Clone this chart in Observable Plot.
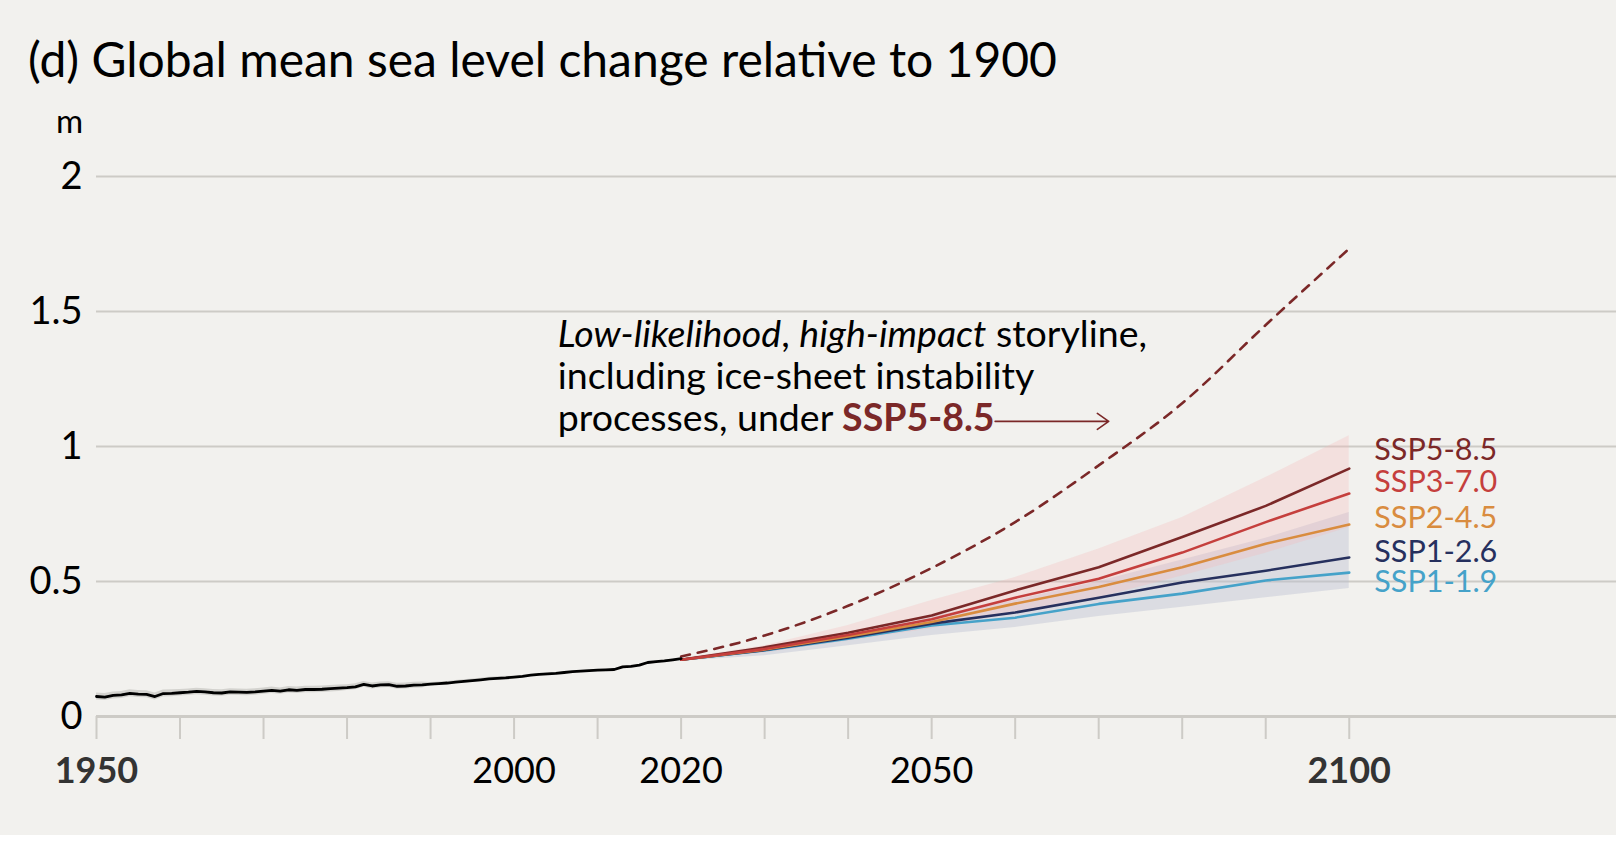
<!DOCTYPE html>
<html>
<head>
<meta charset="utf-8">
<script src="https://cdn.jsdelivr.net/npm/d3@7"></script>
<script src="https://cdn.jsdelivr.net/npm/@observablehq/plot@0.6"></script>
<style>
html, body { margin: 0; padding: 0; background: #ffffff; }
#wrap { width: 1616px; height: 835px; background: #f2f1ee; position: relative; overflow: hidden; font-family: Lato, "Open Sans", sans-serif; }
#title { position: absolute; left: 28px; top: 35px; font-size: 48px; line-height: 48px; color: #000; white-space: nowrap; }
#chart { position: absolute; left: 0; top: 100px; }
</style>
</head>
<body>
<div id="wrap">
  <div id="title">(d) Global mean sea level change relative to 1900</div>
  <div id="chart"></div>
</div>
<script>
// ---------- data ----------
const histStart = 1950;
const histSL = [
  0.074, 0.072, 0.078, 0.080, 0.086, 0.083, 0.082, 0.074, 0.085, 0.086,
  0.088, 0.090, 0.093, 0.091, 0.088, 0.087, 0.091, 0.090, 0.089, 0.091,
  0.094, 0.097, 0.094, 0.099, 0.097, 0.100, 0.100, 0.101, 0.103, 0.105,
  0.107, 0.110, 0.119, 0.113, 0.117, 0.118, 0.112, 0.113, 0.116, 0.117,
  0.120, 0.122, 0.124, 0.127, 0.130, 0.133, 0.136, 0.139, 0.141, 0.143,
  0.146, 0.149, 0.153, 0.156, 0.158, 0.160, 0.163, 0.166, 0.168, 0.170,
  0.172, 0.173, 0.174, 0.184, 0.186, 0.190, 0.200, 0.203, 0.206, 0.210,
  0.214
];
// half-width of the observational uncertainty band, per decade (1950s ... 2020)
const histUncByDecade = [0.013, 0.012, 0.012, 0.011, 0.006, 0.002, 0.002, 0.002];

const projYears = [2020, 2030, 2040, 2050, 2060, 2070, 2080, 2090, 2100];
const scenarios = ["SSP5-8.5", "SSP3-7.0", "SSP2-4.5", "SSP1-2.6", "SSP1-1.9"];
const ssp585 = [0.21, 0.256, 0.310, 0.374, 0.467, 0.553, 0.665, 0.780, 0.918];
const ssp370 = [0.21, 0.250, 0.302, 0.360, 0.440, 0.510, 0.607, 0.720, 0.826];
const ssp245 = [0.21, 0.248, 0.296, 0.350, 0.418, 0.480, 0.553, 0.640, 0.711];
const ssp126 = [0.21, 0.246, 0.292, 0.344, 0.385, 0.440, 0.496, 0.540, 0.589];
const ssp119 = [0.21, 0.245, 0.288, 0.337, 0.366, 0.417, 0.455, 0.504, 0.533];

// likely ranges
const ssp370Low  = [0.21, 0.235, 0.280, 0.325, 0.385, 0.440, 0.520, 0.605, 0.700];
const ssp370High = [0.215, 0.262, 0.337, 0.430, 0.515, 0.620, 0.737, 0.885, 1.040];
const ssp126Low  = [0.205, 0.225, 0.262, 0.300, 0.330, 0.370, 0.405, 0.440, 0.474];
const ssp126High = [0.215, 0.255, 0.310, 0.370, 0.430, 0.500, 0.580, 0.660, 0.756];

// low-likelihood, high-impact storyline (SSP5-8.5)
const lowLikelihood = [0.222, 0.300, 0.410, 0.550, 0.720, 0.930, 1.160, 1.450, 1.733];

const colors = {"SSP5-8.5": "#7b2828", "SSP3-7.0": "#c53f3d", "SSP2-4.5": "#d98c3f", "SSP1-2.6": "#26305e", "SSP1-1.9": "#45a2c9"};
const labelY = [0.985, 0.867, 0.733, 0.607, 0.496];

const yTicks = [0, 0.5, 1, 1.5, 2];
const yTickLabels = ["0", "0.5", "1", "1.5", "2"];
const xTickYears = [1950, 1960, 1970, 1980, 1990, 2000, 2010, 2020, 2030, 2040, 2050, 2060, 2070, 2080, 2090, 2100];
const xLabelsBold = [1950, 2100];
const xLabelsPlain = [2000, 2020, 2050];

// ---------- tables ----------
const hist = histSL.map((v, i) => {
  const year = histStart + i;
  const u = histUncByDecade[Math.floor(i / 10)];
  return {year, v, lo: v - u, hi: v + u};
});
const seriesMap = {"SSP5-8.5": ssp585, "SSP3-7.0": ssp370, "SSP2-4.5": ssp245, "SSP1-2.6": ssp126, "SSP1-1.9": ssp119};
const drawOrder = ["SSP1-1.9", "SSP1-2.6", "SSP2-4.5", "SSP5-8.5", "SSP3-7.0"];
const proj = drawOrder.flatMap(s => projYears.map((year, i) => ({scenario: s, year, v: seriesMap[s][i]})));
const bandPink = projYears.map((year, i) => ({year, lo: ssp370Low[i], hi: ssp370High[i]}));
const bandGray = projYears.map((year, i) => ({year, lo: ssp126Low[i], hi: ssp126High[i]}));
const storyline = projYears.map((year, i) => ({year, v: lowLikelihood[i]}));
const labels = scenarios.map((s, i) => ({s, y: labelY[i]}));

const grid = "#cdcbc6";
const FONT = "Lato, 'Open Sans', sans-serif";

const plot = Plot.plot({
  width: 1616,
  height: 735,
  marginTop: 76,
  marginBottom: 119,
  marginLeft: 96,
  marginRight: 0,
  style: {background: "transparent", fontFamily: FONT, overflow: "visible"},
  x: {domain: [1950, 2132], axis: null},
  y: {domain: [0, 2], axis: null},
  marks: [
    Plot.ruleY([0.5, 1, 1.5, 2], {stroke: grid, strokeWidth: 2}),
    Plot.areaY(hist, {x: "year", y1: "lo", y2: "hi", fill: "#d4d3cf"}),
    Plot.areaY(bandGray, {x: "year", y1: "lo", y2: "hi", fill: "#b9bfcf", fillOpacity: 0.4}),
    Plot.areaY(bandPink, {x: "year", y1: "lo", y2: "hi", fill: "#f4b8b8", fillOpacity: 0.3}),
    Plot.line(storyline, {x: "year", y: "v", stroke: colors["SSP5-8.5"], strokeWidth: 2.6, strokeDasharray: "9,8", curve: "monotone-x"}),
    Plot.line(proj, {x: "year", y: "v", z: "scenario", stroke: d => colors[d.scenario], strokeWidth: 2.6}),
    Plot.line(hist, {x: "year", y: "v", stroke: "#000", strokeWidth: 2.8}),
    Plot.ruleY([0], {stroke: grid, strokeWidth: 3}),
    Plot.axisX(xTickYears, {tickSize: 23, tickFormat: () => "", stroke: grid, strokeWidth: 2, strokeOpacity: 1}),
    Plot.text(xLabelsBold, {x: d => d, frameAnchor: "bottom", dy: 66, text: d => String(d), fontSize: 36, fontWeight: "bold", fill: "#333"}),
    Plot.text(xLabelsPlain, {x: d => d, frameAnchor: "bottom", dy: 66, text: d => String(d), fontSize: 36, fill: "#000"}),
    Plot.text(yTicks, {y: d => d, frameAnchor: "left", dx: -14, textAnchor: "end", text: (d, i) => yTickLabels[i], fontSize: 38, fill: "#000"}),
    Plot.text(["m"], {frameAnchor: "top-left", dx: -27, dy: -54, textAnchor: "middle", lineAnchor: "middle", text: d => d, fontSize: 33, fill: "#000"}),
    Plot.text(labels, {x: () => 2103, y: "y", text: "s", fill: d => colors[d.s], textAnchor: "start", fontSize: 30.5}),
    Plot.arrow([{x1: 2057.6, x2: 2071.2, y: 1.093}], {x1: "x1", x2: "x2", y1: "y", y2: "y", stroke: colors["SSP5-8.5"], strokeWidth: 1.6, headLength: 13, headAngle: 70})
  ]
});
document.getElementById("chart").appendChild(plot);

// annotation with mixed styling
const sx = plot.scale("x"), sy = plot.scale("y");
const annX = 2005.3;
const annLineY = [1.367, 1.211, 1.056];
const g = d3.select(plot).append("g")
  .attr("font-family", FONT).attr("font-size", 37.5).attr("fill", "#000").attr("text-anchor", "start");
const l1 = g.append("text").attr("x", sx.apply(annX)).attr("y", sy.apply(annLineY[0]));
l1.append("tspan").attr("font-style", "italic").text("Low-likelihood");
l1.append("tspan").text(", ");
l1.append("tspan").attr("font-style", "italic").text("high-impact");
l1.append("tspan").text(" storyline,");
g.append("text").attr("x", sx.apply(annX)).attr("y", sy.apply(annLineY[1])).text("including ice-sheet instability");
const l3 = g.append("text").attr("x", sx.apply(annX)).attr("y", sy.apply(annLineY[2]));
l3.append("tspan").text("processes, under ");
l3.append("tspan").attr("font-weight", "bold").attr("fill", colors["SSP5-8.5"]).text("SSP5-8.5");
</script>
</body>
</html>
